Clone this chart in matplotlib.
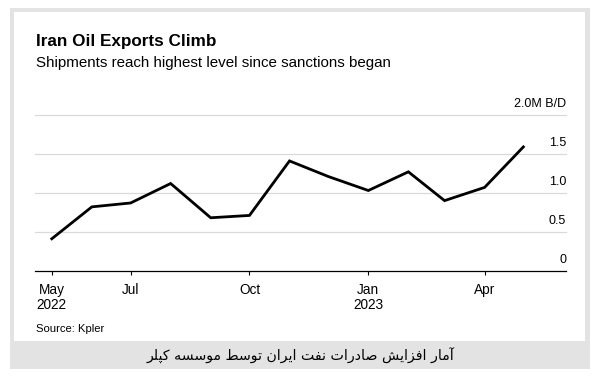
import pandas as pd
import matplotlib
matplotlib.use("Agg")
import matplotlib.pyplot as plt
import matplotlib.transforms as mtransforms
from matplotlib.patches import Rectangle

# 데이터 (Kpler, 백만 배럴/일)
months = ["2022-05", "2022-06", "2022-07", "2022-08", "2022-09", "2022-10", "2022-11",
          "2022-12", "2023-01", "2023-02", "2023-03", "2023-04", "2023-05"]
exports = [0.41, 0.82, 0.87, 1.12, 0.68, 0.71, 1.41, 1.21, 1.03, 1.27, 0.90, 1.07, 1.59]

tick_dates = ["2022-05-01", "2022-07-01", "2022-10-01", "2023-01-01", "2023-04-01"]
tick_labels = ["May\n2022", "Jul", "Oct", "Jan\n2023", "Apr"]
y_ticks = [0, 0.5, 1.0, 1.5, 2.0]
y_labels = ["0", "0.5", "1.0", "1.5", "2.0M B/D"]

title = "Iran Oil Exports Climb"
subtitle = "Shipments reach highest level since sanctions began"
source = "Source: Kpler"
caption = "آمار افزایش صادرات نفت ایران توسط موسسه کپلر"

# 아랍 문자 표시형 (isolated, final, initial, medial)
FORMS = {
    "\u0622": ("\uFE81", "\uFE82", None, None),
    "\u0627": ("\uFE8D", "\uFE8E", None, None),
    "\u062F": ("\uFEA9", "\uFEAA", None, None),
    "\u0631": ("\uFEAD", "\uFEAE", None, None),
    "\u0632": ("\uFEAF", "\uFEB0", None, None),
    "\u0648": ("\uFEED", "\uFEEE", None, None),
    "\u062A": ("\uFE95", "\uFE96", "\uFE97", "\uFE98"),
    "\u0633": ("\uFEB1", "\uFEB2", "\uFEB3", "\uFEB4"),
    "\u0634": ("\uFEB5", "\uFEB6", "\uFEB7", "\uFEB8"),
    "\u0635": ("\uFEB9", "\uFEBA", "\uFEBB", "\uFEBC"),
    "\u0637": ("\uFEC1", "\uFEC2", "\uFEC3", "\uFEC4"),
    "\u0641": ("\uFED1", "\uFED2", "\uFED3", "\uFED4"),
    "\u0644": ("\uFEDD", "\uFEDE", "\uFEDF", "\uFEE0"),
    "\u0645": ("\uFEE1", "\uFEE2", "\uFEE3", "\uFEE4"),
    "\u0646": ("\uFEE5", "\uFEE6", "\uFEE7", "\uFEE8"),
    "\u0647": ("\uFEE9", "\uFEEA", "\uFEEB", "\uFEEC"),
    "\u067E": ("\uFB56", "\uFB57", "\uFB58", "\uFB59"),
    "\u06A9": ("\uFB8E", "\uFB8F", "\uFB90", "\uFB91"),
    "\u06CC": ("\uFBFC", "\uFBFD", "\uFBFE", "\uFBFF"),
}


def shape_rtl(text):
    out = []
    for i, ch in enumerate(text):
        forms = FORMS.get(ch)
        if forms is None:
            out.append(ch)
            continue
        prev = text[i - 1] if i > 0 else ""
        nxt = text[i + 1] if i + 1 < len(text) else ""
        join_prev = prev in FORMS and FORMS[prev][2] is not None
        join_next = nxt in FORMS and forms[2] is not None
        if join_prev and join_next:
            out.append(forms[3])
        elif join_prev:
            out.append(forms[1])
        elif join_next:
            out.append(forms[2])
        else:
            out.append(forms[0])
    return "".join(reversed(out))


W, H = 600, 381
plt.rcParams["font.family"] = ["Liberation Sans", "DejaVu Sans"]

fig = plt.figure(figsize=(W / 100, H / 100), dpi=100)
fig.patch.set_facecolor("white")


def px_rect(x0, y0, x1, y1, color):
    fig.patches.append(Rectangle((x0 / W, 1 - y1 / H), (x1 - x0) / W, (y1 - y0) / H,
                                 transform=fig.transFigure, facecolor=color,
                                 edgecolor="none", zorder=-10))


px_rect(10, 8, 590, 369, "#e3e3e3")
px_rect(14, 12, 585, 341, "white")

ax = fig.add_axes([35 / W, 1 - 270.7 / H, (566 - 35) / W, (270.7 - 115) / H])
ax.set_facecolor("none")

x = pd.to_datetime(months)
ax.plot(x, exports, color="black", linewidth=2.0, solid_joinstyle="miter", zorder=3)

ax.set_ylim(0, 2.0)
ax.set_xlim(pd.Timestamp("2022-04-18"), pd.Timestamp("2023-06-03"))

for v in y_ticks[1:]:
    ax.axhline(v, color="#d9d9d9", linewidth=0.9, clip_on=False, zorder=1)

for s in ["top", "left", "right"]:
    ax.spines[s].set_visible(False)
ax.spines["bottom"].set_color("black")
ax.spines["bottom"].set_linewidth(0.9)

ax.set_yticks([])
ax.set_xticks(pd.to_datetime(tick_dates))
ax.set_xticklabels(tick_labels, fontsize=9.8, linespacing=1.1)
ax.tick_params(axis="x", direction="out", length=3, width=0.8, color="black", pad=6)

lbl_tr = mtransforms.offset_copy(ax.get_yaxis_transform(), fig=fig, x=0, y=5.5, units="points")
for v, t in zip(y_ticks, y_labels):
    ax.text(1.0, v, t, transform=lbl_tr, ha="right", va="baseline", fontsize=9)

fig.text(36 / W, 1 - 46 / H, title, fontsize=12.3, fontweight="bold", va="baseline")
fig.text(36 / W, 1 - 67 / H, subtitle, fontsize=10.9, va="baseline")
fig.text(35.5 / W, 1 - 331.7 / H, source, fontsize=8.1, va="baseline")
fig.text(300 / W, 1 - 356 / H, shape_rtl(caption), fontsize=10.2, ha="center", va="center",
         family=["DejaVu Sans"])

fig.savefig("out.png", dpi=100)
